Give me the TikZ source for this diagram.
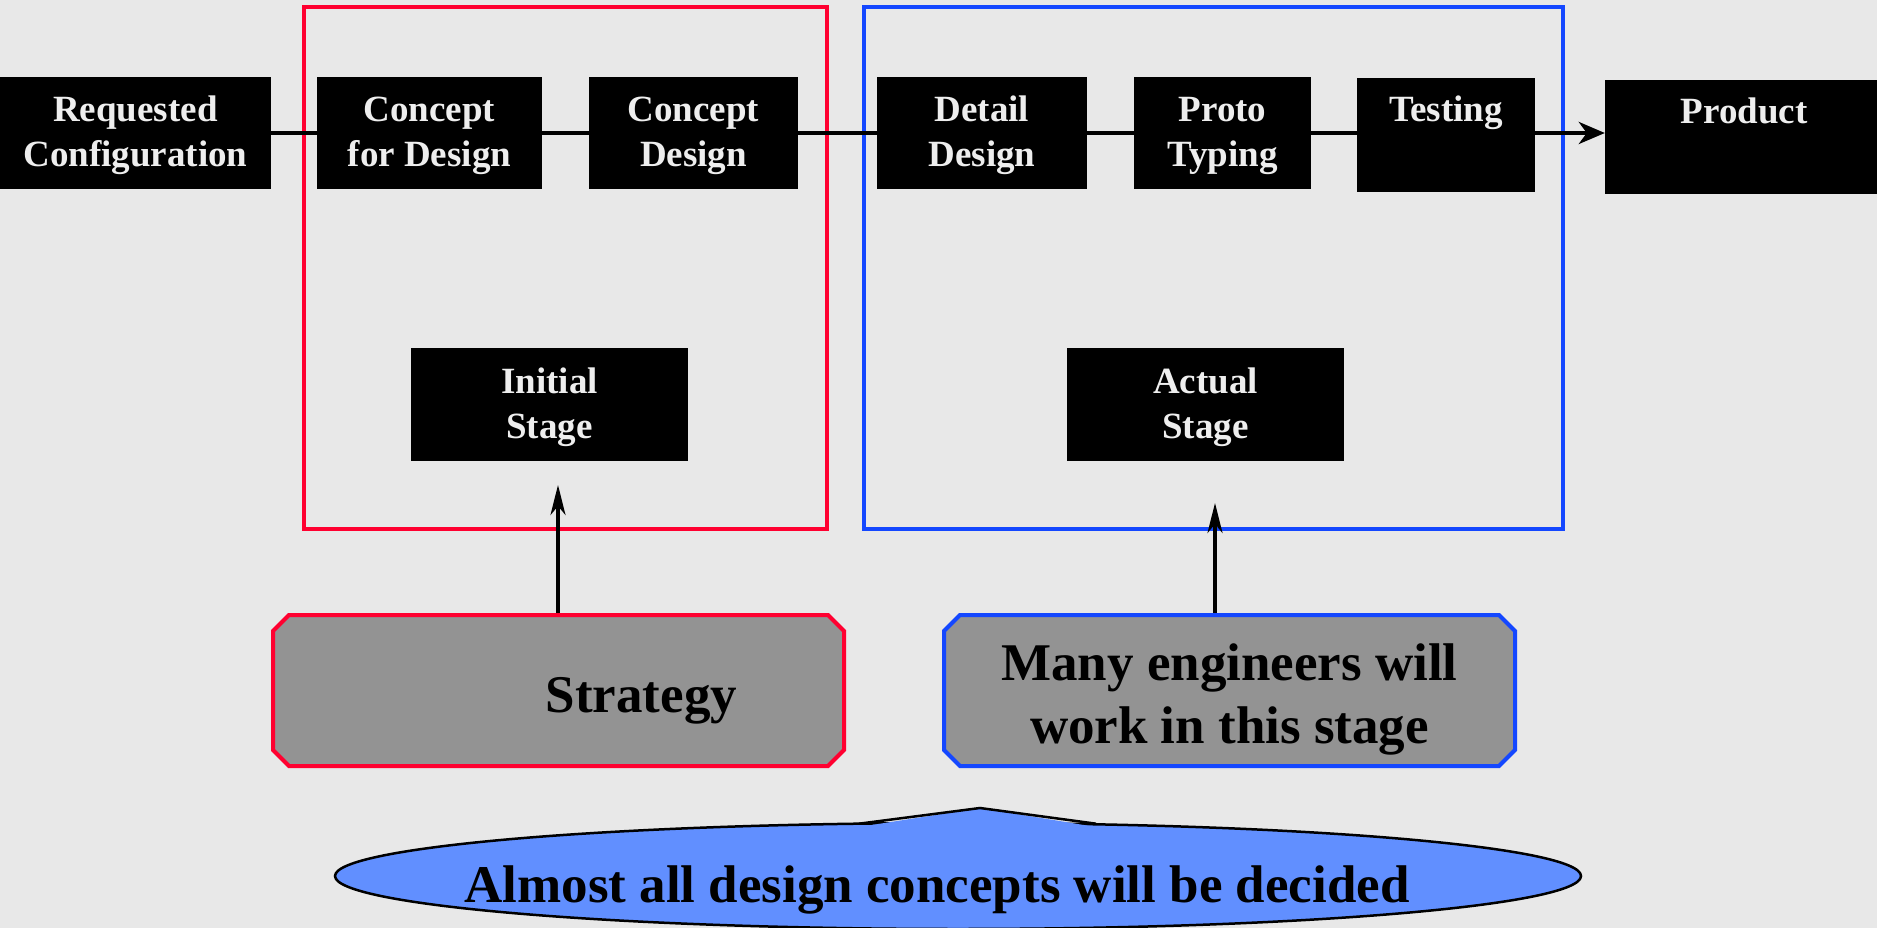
\documentclass[tikz,border=0pt]{standalone}
\usepackage{fontspec}
\setmainfont{Liberation Serif}
\usetikzlibrary{shapes.misc,shapes.geometric,arrows.meta}
\definecolor{bg}{HTML}{E8E8E8}
\definecolor{fred}{HTML}{FF0030}
\definecolor{fblue}{HTML}{1447FF}
\definecolor{gfill}{HTML}{939393}
\definecolor{efill}{HTML}{618FFF}
\definecolor{wtext}{HTML}{EEEEEE}
\tikzset{
  blk/.style={fill=black, text=wtext, inner sep=0pt, align=center,
    minimum height=112pt, font=\fontsize{37}{45}\selectfont\bfseries},
  frame/.style={line width=4.5pt},
  note/.style={chamfered rectangle, chamfered rectangle xsep=8pt, chamfered rectangle ysep=8pt,
    fill=gfill, line width=4pt, inner sep=0pt, minimum width=571pt, minimum height=151pt,
    align=center, font=\fontsize{53}{63}\selectfont\bfseries},
  flow/.style={line width=4pt},
  up/.style={line width=3.5pt, -{Stealth[length=30pt,width=15pt,inset=9pt]}},
}
\begin{document}
\begin{tikzpicture}[x=1pt,y=-1pt]
\useasboundingbox[fill=bg] (0,0) rectangle (1877,928);
% frames
\draw[frame, fred] (304,7) rectangle (827,529);
\draw[frame, fblue] (864,7) rectangle (1563,529);
% top row
\node[blk, minimum width=271pt] (req) at (135.5,133) {\rule{0pt}{31pt}Requested\\Configuration};
\node[blk, minimum width=225pt] (cfd) at (429.5,133) {\rule{0pt}{31pt}Concept\\for Design};
\node[blk, minimum width=209pt] (cd) at (693.5,133) {\rule{0pt}{31pt}Concept\\Design};
\node[blk, minimum width=210pt] (dd) at (982,133) {\rule{0pt}{31pt}Detail\\Design};
\node[blk, minimum width=177pt] (pt) at (1222.5,133) {\rule{0pt}{31pt}Proto\\Typing};
\node[blk, minimum width=178pt, minimum height=114pt] (test) at (1446,135) {\rule{0pt}{31pt}Testing\\\strut};
\node[blk, minimum width=278pt, minimum height=114pt] (prod) at (1744,137) {\rule{0pt}{31pt}Product\\\strut};
\draw[flow] (req.east) -- (cfd.west);
\draw[flow] (cfd.east) -- (cd.west);
\draw[flow] (cd.east) -- (dd.west);
\draw[flow] (dd.east) -- (pt.west);
\draw[flow] (pt.east) -- (pt.east -| test.west);
\draw[flow, -{Stealth[length=26pt,width=22pt,inset=8pt]}] (pt.east -| test.east) -- (pt.east -| prod.west);
% stage boxes
\node[blk, minimum width=277pt, minimum height=113pt] (init) at (549.5,404.5) {\rule{0pt}{31pt}Initial\\Stage};
\node[blk, minimum width=277pt, minimum height=113pt] (act) at (1205.5,404.5) {\rule{0pt}{31pt}Actual\\Stage};
% notes
\node[note, draw=fred] (strat) at (558.5,690.5) {\rule{0pt}{55pt}\hspace*{166pt}Strategy};
\node[note, draw=fblue] (many) at (1229.5,690.5) {\rule{0pt}{55pt}Many engineers will\\work in this stage};
\coordinate (t1) at (558,485);
\coordinate (t2) at (1215,503);
\draw[up] (strat.north -| t1) -- (t1);
\draw[up] (many.north -| t2) -- (t2);
% callout ellipse
\node[ellipse, draw=black, line width=2.5pt, fill=efill, inner sep=0pt,
  minimum width=1246pt, minimum height=106pt,
  font=\fontsize{53}{63}\selectfont\bfseries] (ell) at (958,876)
  {\raisebox{-26pt}[0pt][0pt]{\makebox[0pt]{Almost all design concepts will be decided\hspace*{42pt}}}};
\fill[efill] (859,827) -- (980,808) -- (1096,827) -- cycle;
\draw[line width=2.5pt, line join=miter] (859,823.7) -- (980,808) -- (1096,823.7);
\end{tikzpicture}
\end{document}
